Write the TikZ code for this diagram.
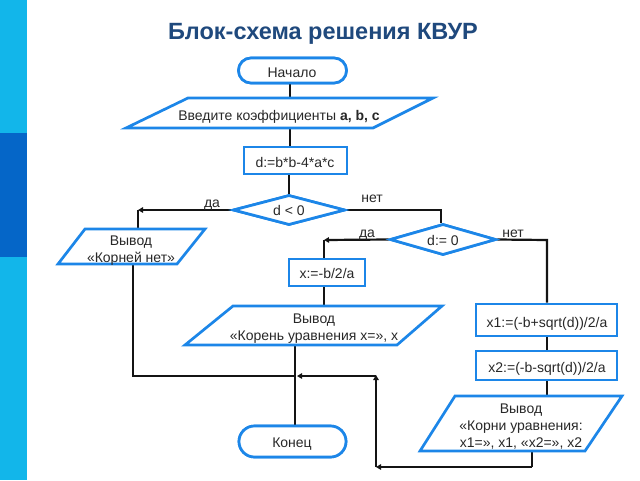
\documentclass[tikz,border=0pt]{standalone}
\usepackage{fontspec}
\setmainfont{Liberation Sans}
\usetikzlibrary{shapes.misc,shapes.geometric,arrows.meta}
\definecolor{shapeblue}{RGB}{28,134,232}
\definecolor{titleblue}{RGB}{31,73,125}
\definecolor{barlight}{RGB}{18,182,234}
\definecolor{bardark}{RGB}{5,102,200}
\definecolor{txt}{RGB}{40,40,40}
\begin{document}
\begin{tikzpicture}[x=1pt,y=-1pt,
  txtstyle/.style={font=\fontsize{14}{17}\selectfont, text=txt, inner sep=0pt},
  box/.style={draw=shapeblue, line width=2.7pt, fill=white, txtstyle},
  term/.style={box, rounded rectangle},
  dia/.style={box, diamond, aspect=3.7},
  io/.style={draw=shapeblue, line width=2.7pt, fill=white, line join=miter},
  conn/.style={draw=black!92, line width=2.2pt},
  arr/.style={conn, -{Triangle[length=5pt,width=5.5pt]}},
  lbl/.style={txtstyle, anchor=base}
]
\useasboundingbox (0,0) rectangle (640,480);
\fill[white] (0,0) rectangle (640,480);
% side bar
\fill[barlight] (0,0) rectangle (27,133);
\fill[bardark] (0,133) rectangle (27,257);
\fill[barlight] (0,257) rectangle (27,480);
% title
\node[font=\bfseries\fontsize{23.5}{26}\selectfont, text=titleblue, inner sep=0pt, anchor=base] (title) at (323,39) {Блок-схема решения КВУР};

% connection points
\coordinate (in-t) at (290,98);
\coordinate (in-b) at (290,128);
\coordinate (no-t) at (138,229);
\coordinate (no-b) at (133,264);
\coordinate (one-t) at (324,306);
\coordinate (one-b) at (295,345);
\coordinate (two-t) at (547,396);
\coordinate (two-b) at (532,451);
\coordinate (c1) at (138,210);
\coordinate (c2) at (441,210);
\coordinate (c3) at (324,240);
\coordinate (c4) at (547,240);
\coordinate (j1) at (133,376);
\coordinate (j2) at (376,376);
\coordinate (j3) at (532,467);
\coordinate (j4) at (376,467);

% shapes (named, for the connectors)
\node[term, minimum width=108pt, minimum height=25pt] (start) at (292.5,70.5) {};
\node[box, minimum width=103pt, minimum height=27pt] (dbox) at (295.5,160.5) {};
\node[dia, minimum width=112pt, minimum height=30pt] (d1) at (289,210) {};
\node[dia, minimum width=106pt, minimum height=31pt] (d2) at (443,239.5) {};
\node[box, minimum width=76pt, minimum height=27pt] (xbox) at (327,272.5) {};
\node[box, minimum width=141pt, minimum height=32pt] (x1box) at (546.5,320) {};
\node[box, minimum width=141pt, minimum height=29pt] (x2box) at (546.5,365.5) {};
\node[term, minimum width=107pt, minimum height=31pt] (end) at (292.5,441.5) {};

% connectors
\draw[conn] (start.south -| in-t) -- (in-t);
\draw[conn] (in-b) -- (dbox.south -| in-b);
\draw[conn] (dbox.south -| d1.north) -- (d1.north);
\draw[arr] (d1.west) -- (c1);
\draw[conn] (c1) -- (no-t);
\draw[conn] (d1.east) -- (c2) -- (d2.north -| c2);
\draw[arr] (d2.west) -- (c3);
\draw[conn] (c3) -- (xbox.north -| c3);
\draw[conn] (d2.east) -- (c4) -- (x1box.north -| c4);
\draw[conn] (xbox.south -| one-t) -- (one-t);
\draw[conn] (x1box.south -| two-t) -- (x2box.north -| two-t);
\draw[conn] (x2box.south -| two-t) -- (two-t);
\draw[conn] (one-b) -- (end.north -| one-b);
\draw[conn] (no-b) -- (j1) -- (j1 -| one-b);
\draw[conn] (two-b) -- (j3);
\draw[arr] (j3) -- (j4);
\draw[arr] (j4) -- ([yshift=1pt]j2);
\draw[arr] (j2) -- ([xshift=2pt]j2 -| one-b);

% shapes over connectors, with their texts
\node[term, minimum width=108pt, minimum height=25pt] at (start) {};
\node[anchor=base, txtstyle] at (292,77) {Начало};
\node[box, minimum width=103pt, minimum height=27pt] at (dbox) {};
\node[anchor=base, txtstyle] at (295,167) {d:=b*b-4*a*c};
\node[dia, minimum width=112pt, minimum height=30pt] at (d1) {};
\node[anchor=base, txtstyle] at (289,215) {d < 0};
\node[dia, minimum width=106pt, minimum height=31pt] at (d2) {};
\node[anchor=base, txtstyle] at (443,245.5) {d:= 0};
\node[box, minimum width=76pt, minimum height=27pt] at (xbox) {};
\node[anchor=base, txtstyle] at (327,278) {x:=-b/2/a};
\node[box, minimum width=141pt, minimum height=32pt] at (x1box) {};
\node[anchor=base, txtstyle] at (547,327) {x1:=(-b+sqrt(d))/2/a};
\node[box, minimum width=141pt, minimum height=29pt] at (x2box) {};
\node[anchor=base, txtstyle] at (547,372) {x2:=(-b-sqrt(d))/2/a};
\node[term, minimum width=107pt, minimum height=31pt] at (end) {};
\node[anchor=base, txtstyle] at (292,447) {Конец};

% parallelograms
\draw[io] (188,98) -- (433,98) -- (373,128) -- (126,128) -- cycle;
\node[anchor=base, txtstyle] (in) at (279,120.5) {Введите коэффициенты \textbf{a, b, c}};
\draw[io] (85,229) -- (205,229) -- (177,264) -- (58,264) -- cycle;
\node[txtstyle, align=center] (no) at (131,250.5) {Вывод\\«Корней нет»};
\draw[io] (233,306) -- (442,306) -- (397,345) -- (185,345) -- cycle;
\node[txtstyle, align=center] (one) at (314,329) {Вывод\\«Корень уравнения x=», x};
\draw[io] (455,396) -- (622,396) -- (585,451) -- (420,451) -- cycle;
\node[txtstyle, align=center] (two) at (521,427) {Вывод\\«Корни уравнения:\\x1=», x1, «x2=», x2};

% branch labels
\node[lbl] at (212,207) {да};
\node[lbl] at (372,202) {нет};
\node[lbl] at (367,237) {да};
\node[lbl] at (513,237) {нет};
\end{tikzpicture}
\end{document}
